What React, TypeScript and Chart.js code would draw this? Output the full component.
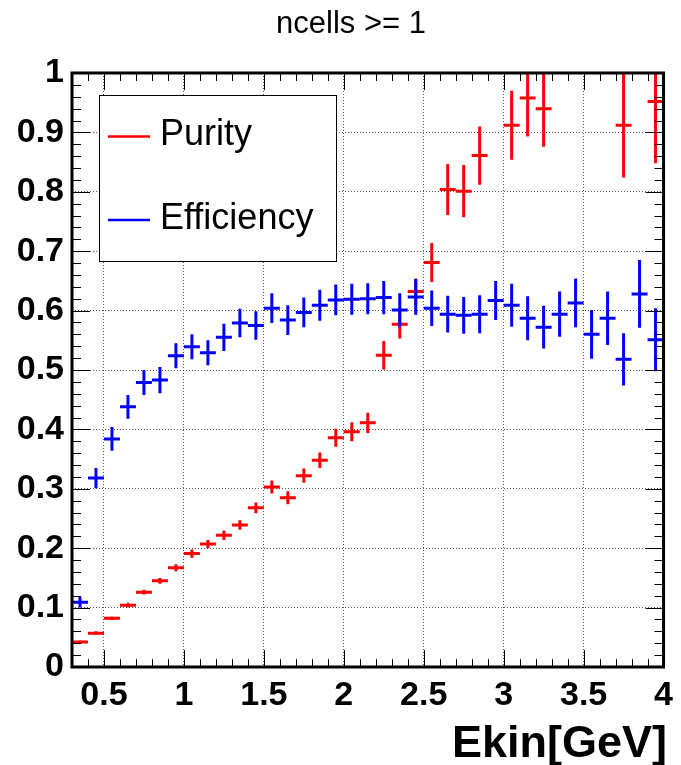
import React, { useEffect, useRef } from "react";
import { Chart, registerables } from "chart.js";

Chart.register(...registerables);

// ---- data ----
const binCenters = [
  0.35, 0.45, 0.55, 0.65, 0.75, 0.85, 0.95, 1.05, 1.15, 1.25,
  1.35, 1.45, 1.55, 1.65, 1.75, 1.85, 1.95, 2.05, 2.15, 2.25,
  2.35, 2.45, 2.55, 2.65, 2.75, 2.85, 2.95, 3.05, 3.15, 3.25,
  3.35, 3.45, 3.55, 3.65, 3.75, 3.85, 3.95,
];
const binHalfWidth = 0.05;

const purity: (number | null)[] = [
  0.042, 0.057, 0.082, 0.104, 0.126, 0.145, 0.167, 0.191, 0.207, 0.222,
  0.239, 0.268, 0.303, 0.285, 0.322, 0.348, 0.386, 0.396, 0.411, 0.525,
  0.577, 0.632, 0.681, 0.804, 0.801, 0.861, null, 0.912, 0.958, 0.94,
  null, null, null, null, 0.912, null, 0.952,
];
const purityErr = [
  0.003, 0.003, 0.003, 0.004, 0.004, 0.005, 0.006, 0.007, 0.007, 0.008,
  0.008, 0.009, 0.011, 0.011, 0.012, 0.013, 0.015, 0.016, 0.017, 0.024,
  0.024, 0.022, 0.033, 0.043, 0.044, 0.049, 0, 0.058, 0.065, 0.064,
  0, 0, 0, 0, 0.088, 0, 0.104,
];

const efficiency: (number | null)[] = [
  0.109, 0.318, 0.384, 0.438, 0.479, 0.483, 0.524, 0.539, 0.529, 0.555,
  0.579, 0.575, 0.604, 0.584, 0.597, 0.609, 0.618, 0.619, 0.62, 0.622,
  0.601, 0.623, 0.604, 0.594, 0.592, 0.594, 0.617, 0.609, 0.587, 0.572,
  0.594, 0.613, 0.56, 0.587, 0.518, 0.628, 0.551,
];
const efficiencyErr = [
  0.009, 0.017, 0.02, 0.02, 0.021, 0.022, 0.021, 0.021, 0.021, 0.023,
  0.024, 0.024, 0.025, 0.025, 0.025, 0.026, 0.026, 0.026, 0.026, 0.028,
  0.028, 0.03, 0.03, 0.031, 0.031, 0.032, 0.033, 0.036, 0.037, 0.036,
  0.038, 0.041, 0.041, 0.045, 0.044, 0.057, 0.053,
];

const xTickValues = [0.5, 1, 1.5, 2, 2.5, 3, 3.5, 4];
const yTickValues = [0, 0.1, 0.2, 0.3, 0.4, 0.5, 0.6, 0.7, 0.8, 0.9, 1];

const titleText = "ncells >= 1";
const xTitleText = "Ekin[GeV]";
const seriesLabels = ["Purity", "Efficiency"];
const seriesColors = ["#ff0000", "#0000ff"];

const FONT = '"Liberation Sans", Arial, Helvetica, sans-serif';

const rootPlugin = {
  id: "rootStyle",
  afterDatasetsDraw(chart: any) {
    const { ctx, chartArea: a, scales } = chart;
    const xs = scales.x;
    const ys = scales.y;

    // error-bar crosses
    ctx.save();
    ctx.beginPath();
    ctx.rect(a.left, a.top, a.right - a.left, a.bottom - a.top);
    ctx.clip();
    chart.data.datasets.forEach((ds: any) => {
      ctx.strokeStyle = ds.borderColor;
      ctx.lineWidth = 3;
      ctx.lineCap = "butt";
      ds.data.forEach((p: any) => {
        if (p.y == null) return;
        const px = xs.getPixelForValue(p.x);
        const py = ys.getPixelForValue(p.y);
        ctx.beginPath();
        ctx.moveTo(xs.getPixelForValue(p.x - binHalfWidth), py);
        ctx.lineTo(xs.getPixelForValue(p.x + binHalfWidth), py);
        ctx.moveTo(px, ys.getPixelForValue(p.y - p.e));
        ctx.lineTo(px, ys.getPixelForValue(p.y + p.e));
        ctx.stroke();
      });
    });
    ctx.restore();

    // legend box
    ctx.save();
    const lx0 = 99.5, ly0 = 95.5, lx1 = 336.5, ly1 = 261.5;
    ctx.fillStyle = "#fff";
    ctx.fillRect(lx0, ly0, lx1 - lx0, ly1 - ly0);
    ctx.strokeStyle = "#000";
    ctx.lineWidth = 1;
    ctx.strokeRect(lx0, ly0, lx1 - lx0, ly1 - ly0);
    const rowsY = [136.5, 220];
    const baseY = [145, 228.5];
    chart.data.datasets.forEach((ds: any, i: number) => {
      ctx.strokeStyle = ds.borderColor;
      ctx.lineWidth = 2.5;
      ctx.beginPath();
      ctx.moveTo(108, rowsY[i]);
      ctx.lineTo(150, rowsY[i]);
      ctx.stroke();
      ctx.fillStyle = "#000";
      ctx.font = `36px ${FONT}`;
      ctx.textAlign = "left";
      ctx.textBaseline = "alphabetic";
      ctx.fillText(ds.label, 160, baseY[i]);
    });
    ctx.restore();

    // ticks
    ctx.save();
    ctx.strokeStyle = "#000";
    ctx.lineWidth = 1;
    ctx.beginPath();
    for (let i = 3; i <= 40; i++) {
      const v = i / 10;
      const px = Math.round(xs.getPixelForValue(v)) + 0.5;
      const len = i % 5 === 0 ? 17 : 8;
      ctx.moveTo(px, a.bottom);
      ctx.lineTo(px, a.bottom - len);
      ctx.moveTo(px, a.top);
      ctx.lineTo(px, a.top + len);
    }
    for (let i = 0; i <= 50; i++) {
      const v = i / 50;
      const py = Math.round(ys.getPixelForValue(v)) + 0.5;
      const len = i % 5 === 0 ? 18 : 9;
      ctx.moveTo(a.left, py);
      ctx.lineTo(a.left + len, py);
      ctx.moveTo(a.right, py);
      ctx.lineTo(a.right - len, py);
    }
    ctx.stroke();

    // frame
    ctx.lineWidth = 3;
    ctx.strokeRect(a.left, a.top, a.right - a.left, a.bottom - a.top);

    // titles
    ctx.fillStyle = "#000";
    ctx.font = `31px ${FONT}`;
    ctx.textAlign = "center";
    ctx.textBaseline = "alphabetic";
    ctx.fillText(titleText, 351, 33);

    ctx.font = `bold 45px ${FONT}`;
    ctx.textAlign = "right";
    ctx.fillText(xTitleText, 667, 757);
    ctx.restore();
  },
};

export default function App() {
  const canvasRef = useRef<HTMLCanvasElement | null>(null);

  useEffect(() => {
    const canvas = canvasRef.current;
    if (!canvas) return;

    const datasets = [
      {
        label: seriesLabels[0],
        data: binCenters.map((x, i) => ({ x, y: purity[i], e: purityErr[i] })),
        borderColor: seriesColors[0],
        backgroundColor: seriesColors[0],
        pointRadius: 0,
        showLine: false,
      },
      {
        label: seriesLabels[1],
        data: binCenters.map((x, i) => ({ x, y: efficiency[i], e: efficiencyErr[i] })),
        borderColor: seriesColors[1],
        backgroundColor: seriesColors[1],
        pointRadius: 0,
        showLine: false,
      },
    ];

    const chart = new Chart(canvas, {
      type: "scatter",
      data: { datasets } as any,
      options: {
        animation: false,
        responsive: false,
        devicePixelRatio: 1,
        layout: { padding: { top: 73, right: 14, left: 0, bottom: 0 } },
        plugins: {
          legend: { display: false },
          tooltip: { enabled: false },
          title: { display: false },
        },
        scales: {
          x: {
            type: "linear",
            min: 0.3,
            max: 4,
            afterBuildTicks: (scale: any) => {
              scale.ticks = xTickValues.map((v) => ({ value: v }));
            },
            afterFit: (scale: any) => {
              scale.height = 98;
            },
            ticks: {
              autoSkip: false,
              maxRotation: 0,
              minRotation: 0,
              padding: 8,
              color: "#000",
              font: { family: FONT, size: 34, weight: "bold" },
              callback: (v: any) => String(Number(Number(v).toFixed(1))),
            },
            grid: {
              display: true,
              drawTicks: false,
              color: "#555",
              lineWidth: 1,
            },
            border: { display: false, dash: [1, 2] },
          },
          y: {
            type: "linear",
            min: 0,
            max: 1,
            afterBuildTicks: (scale: any) => {
              scale.ticks = yTickValues.map((v) => ({ value: v }));
            },
            afterFit: (scale: any) => {
              scale.width = 72;
            },
            ticks: {
              autoSkip: false,
              padding: 8,
              color: "#000",
              font: { family: FONT, size: 34, weight: "bold" },
              callback: (v: any) => String(Number(Number(v).toFixed(1))),
            },
            grid: {
              display: true,
              drawTicks: false,
              color: "#555",
              lineWidth: 1,
            },
            border: { display: false, dash: [1, 2] },
          },
        },
      } as any,
      plugins: [rootPlugin],
    });

    return () => {
      chart.destroy();
    };
  }, []);

  return (
    <div style={{ position: "absolute", left: 0, top: 0, width: 681, height: 765, background: "#fff" }}>
      <canvas ref={canvasRef} width={681} height={765} style={{ display: "block" }} />
    </div>
  );
}
